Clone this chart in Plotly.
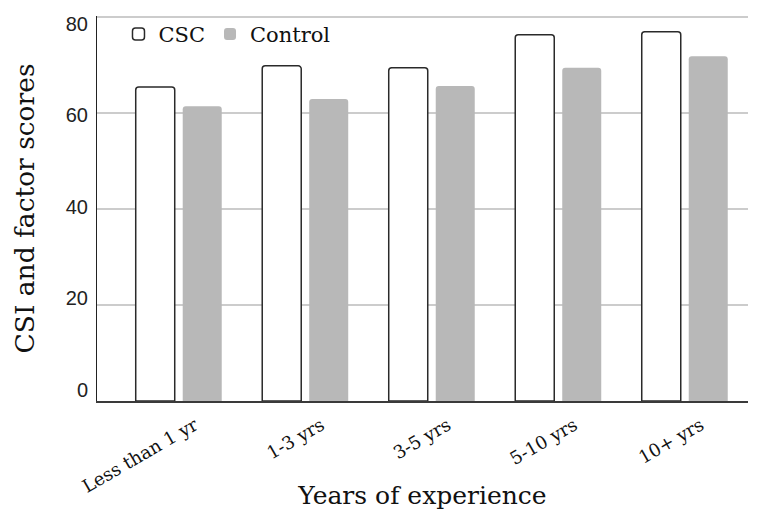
import plotly.graph_objects as go

categories = ["Less than 1 yr", "1-3 yrs", "3-5 yrs", "5-10 yrs", "10+ yrs"]
csc = [65.5, 69.9, 69.5, 76.4, 77.0]
control = [61.5, 63.0, 65.7, 69.5, 71.9]
y_ticks = [0, 20, 40, 60, 80]

serif = "DejaVu Serif"
sans = "Liberation Sans"

fig = go.Figure()
fig.add_trace(go.Bar(
    x=categories, y=csc, name="CSC",
    marker=dict(color="white", line=dict(color="#2a2a2a", width=1.5), cornerradius=3),
))
fig.add_trace(go.Bar(
    x=categories, y=control, name="Control",
    marker=dict(color="#b8b8b8", line=dict(color="#b8b8b8", width=0), cornerradius=3),
))
# invisible trace to carry the tick-label axis
fig.add_trace(go.Scatter(x=[categories[0]], y=[0], yaxis="y2", mode="markers",
                         marker=dict(opacity=0), showlegend=False, hoverinfo="skip"))

fig.update_layout(
    width=750, height=502,
    margin=dict(l=89, r=10, t=6.5, b=108.5),
    paper_bgcolor="white", plot_bgcolor="white",
    barmode="group", bargap=0.257, bargroupgap=0.17,
    showlegend=True,
    legend=dict(orientation="h", x=0.033, y=0.9496, xanchor="left", yanchor="middle",
                font=dict(family=serif, size=21, color="#111111"),
                bgcolor="rgba(0,0,0,0)", itemwidth=30, tracegroupgap=0),
    xaxis=dict(
        title=dict(text="Years of experience", font=dict(family=serif, size=25, color="#111111"), standoff=2),
        tickfont=dict(family=serif, size=18, color="#111111"),
        tickangle=-30, automargin=False,
        ticklabelshift=16, ticklabelstandoff=5,
        range=[-0.646, 4.5],
        showline=True, linecolor="#3a3a3a", linewidth=2,
        ticks="", showgrid=False,
    ),
    yaxis=dict(
        range=[0, 80.3], tickvals=y_ticks, automargin=False,
        showticklabels=False,
        showline=True, linecolor="#222222", linewidth=1,
        showgrid=True, gridcolor="#cccccc", gridwidth=1.5,
        ticks="", zeroline=False,
    ),
    yaxis2=dict(
        overlaying="y", side="left", anchor="x",
        range=[-2.503, 81.74], tickvals=y_ticks, automargin=False,
        tickfont=dict(family=sans, size=20, color="#222222"),
        ticklabelstandoff=8,
        title=dict(text="CSI and factor scores", font=dict(family=serif, size=26.5, color="#111111"), standoff=23),
        showline=False, showgrid=False, zeroline=False, ticks="",
    ),
)

fig.write_html("out.html")
